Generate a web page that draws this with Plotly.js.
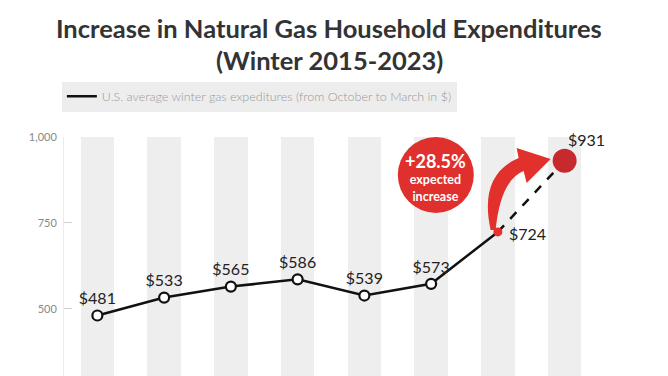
<!DOCTYPE html>
<html>
<head>
<meta charset="utf-8">
<script src="https://cdn.plot.ly/plotly-3.0.1.min.js"></script>
<style>html,body{margin:0;padding:0;background:#fff;}#chart{width:668px;height:376px;}</style>
</head>
<body>
<div id="chart"></div>
<script>
// Data
var seasons = ['2015-16','2016-17','2017-18','2018-19','2019-20','2020-21','2021-22','2022-23'];
var expenditures = [481, 533, 565, 586, 539, 573, 724, 931];
var valueLabels = ['$481','$533','$565','$586','$539','$573','$724','$931'];
var lastActualIndex = 6;
var forecastIndex = 7;
var bandTop = [1000, 1000, 1000, 1000, 1000, 1000, 1000, 1000];
var yTickVals = [500, 750, 1000];
var yTickText = ['500', '750', '1,000'];
var titleLines = ['Increase in Natural Gas Household Expenditures', '(Winter 2015-2023)'];
var legendName = 'U.S. average winter gas expeditures (from October to March in $)';
var badgeLines = ['+28.5%', 'expected', 'increase'];

var idx = seasons.map(function(_, i){ return i; });
var FONT = 'Lato, "Open Sans", sans-serif';

var traces = [
  { type:'bar', x: idx, y: bandTop, width: 0.5, marker:{color:'#eeeeee'},
    hoverinfo:'skip', showlegend:false },
  { type:'scatter', mode:'lines', name: legendName,
    x: idx.slice(0, lastActualIndex+1), y: expenditures.slice(0, lastActualIndex+1),
    line:{color:'#111', width:2.5}, hoverinfo:'skip', showlegend:true },
  { type:'scatter', mode:'lines',
    x: [idx[lastActualIndex], idx[forecastIndex]], y: [expenditures[lastActualIndex], expenditures[forecastIndex]],
    line:{color:'#111', width:2.5, dash:'dash'}, hoverinfo:'skip', showlegend:false },
  { type:'scatter', mode:'markers+text',
    x: idx.slice(0, lastActualIndex), y: expenditures.slice(0, lastActualIndex),
    text: valueLabels.slice(0, lastActualIndex), textposition:'top center',
    textfont:{family:FONT, size:16, color:'#222'},
    marker:{size:10, color:'#fff', line:{color:'#111', width:2.2}},
    hoverinfo:'skip', showlegend:false, cliponaxis:false },
  { type:'scatter', mode:'markers',
    x: [idx[lastActualIndex]], y: [expenditures[lastActualIndex]],
    marker:{size:9, color:'#e8312f'},
    hoverinfo:'skip', showlegend:false, cliponaxis:false },
  { type:'scatter', mode:'markers',
    x: [idx[forecastIndex]], y: [expenditures[forecastIndex]],
    marker:{size:24, color:'#c72a2e'},
    hoverinfo:'skip', showlegend:false, cliponaxis:false }
];

// curved arrow (decoration), in data units
var arrowPath = 'M 5.891,729.7 Q 5.711,889.5 6.311,939.0 L 6.281,968.0 L 6.791,936.0 L 6.431,866.3 L 6.386,901.2 Q 6.041,875.0 5.966,729.7 Z';
var badgeX = 5.07, badgeY = 889.5;

var layout = {
  width: 668, height: 376,
  margin: {l:64, r:70, t:137, b:0},
  paper_bgcolor:'#fff', plot_bgcolor:'#fff',
  font:{family:FONT, color:'#333'},
  showlegend:true,
  legend:{x:-0.004, xanchor:'left', y:1.232, yanchor:'top', orientation:'h',
    bgcolor:'#ededed', borderwidth:0,
    font:{family:FONT, size:12.5, color:'#999', weight:300}},
  bargap:0,
  xaxis:{range:[-0.5, 7.5], visible:false, fixedrange:true},
  yaxis:{range:[305, 1000], tickvals:yTickVals, ticktext:yTickText,
    ticks:'inside', ticklen:8, tickcolor:'#d0d0d0', tickwidth:1,
    showline:true, linecolor:'#ececec', linewidth:1,
    showgrid:false, zeroline:false, tickfont:{family:FONT, size:11, color:'#888'},
    ticklabelstandoff:4},
  shapes:[
    {type:'path', xref:'x', yref:'y', path: arrowPath, fillcolor:'#e2302c', line:{width:0}, layer:'above'},
    {type:'circle', xref:'x', yref:'y', xsizemode:'pixel', ysizemode:'pixel',
      xanchor: badgeX, yanchor: badgeY, x0:-38, x1:38, y0:-38, y1:38,
      fillcolor:'#e0302d', line:{width:0}, layer:'above'}
  ],
  annotations:[
    {x:0.497, y:1.456, xref:'paper', yref:'paper', text:titleLines[0], showarrow:false, yanchor:'middle',
      font:{family:FONT, size:25.5, color:'#333', weight:'bold'}},
    {x:0.497, y:1.322, xref:'paper', yref:'paper', text:titleLines[1], showarrow:false, yanchor:'middle',
      font:{family:FONT, size:25.5, color:'#333', weight:'bold'}},
    {x:idx[lastActualIndex], y:expenditures[lastActualIndex], xref:'x', yref:'y', text:valueLabels[lastActualIndex],
      showarrow:false, xshift:30, yshift:-2, font:{family:FONT, size:16, color:'#222'}},
    {x:idx[forecastIndex], y:expenditures[forecastIndex], xref:'x', yref:'y', text:valueLabels[forecastIndex],
      showarrow:false, xshift:22, yshift:21, font:{family:FONT, size:16, color:'#222'}},
    {x:badgeX, y:badgeY, xref:'x', yref:'y',
      text:'<span style="font-size:18px">'+badgeLines[0]+'</span><br>'+badgeLines[1]+'<br>'+badgeLines[2],
      showarrow:false, yshift:-2, align:'center',
      font:{family:FONT, size:12.5, color:'#fff', weight:'bold'}}
  ]
};

Plotly.newPlot('chart', traces, layout, {displayModeBar:false, staticPlot:true});
</script>
</body>
</html>
